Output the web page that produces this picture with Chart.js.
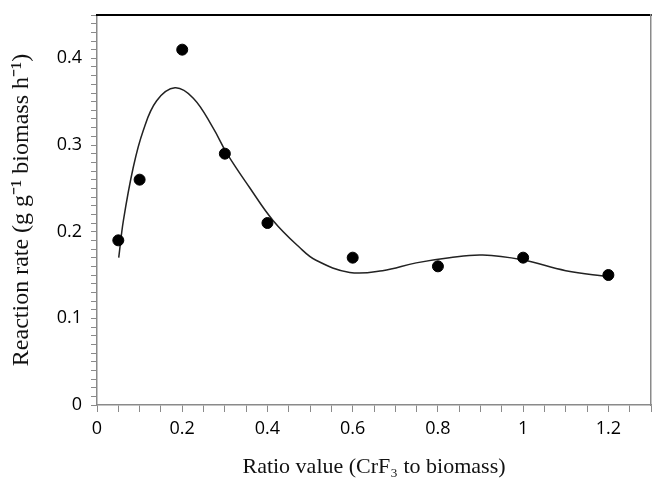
<!DOCTYPE html>
<html>
<head>
<meta charset="utf-8">
<script src="https://cdn.jsdelivr.net/npm/chart.js@4/dist/chart.umd.min.js"></script>
<style>
  html, body { margin: 0; padding: 0; background: #fff; }
  #wrap { width: 652px; height: 486px; }
</style>
</head>
<body>
<div id="wrap"><canvas id="rateChart"></canvas></div>
<script>
// measured points
const ratios = [0.05, 0.1, 0.2, 0.3, 0.4, 0.6, 0.8, 1.0, 1.2];
const rates = [0.19, 0.26, 0.41, 0.29, 0.21, 0.17, 0.16, 0.17, 0.15];

// fitted curve
const fitX = [0.051, 0.062, 0.085, 0.108, 0.14, 0.183, 0.226, 0.272, 0.304, 0.358, 0.413, 0.475, 0.514, 0.593, 0.670, 0.749, 0.827, 0.905, 0.998, 1.1, 1.2];
const fitY = [0.170, 0.213, 0.274, 0.316, 0.351, 0.366, 0.354, 0.320, 0.291, 0.251, 0.213, 0.182, 0.167, 0.153, 0.155, 0.164, 0.170, 0.173, 0.1675, 0.155, 0.148];

// tick labels
const xTickValues = [0, 0.2, 0.4, 0.6, 0.8, 1.0, 1.2];
const xTickLabels = ['0', '0.2', '0.4', '0.6', '0.8', '1', '1.2'];
const yTickValues = [0, 0.1, 0.2, 0.3, 0.4];
const yTickLabels = ['0', '0.1', '0.2', '0.3', '0.4'];

function labelFor(v, values, labels) {
    const i = values.findIndex(t => Math.abs(t - v) < 1e-6);
    return i >= 0 ? labels[i] : '';
}

const axisGray = '#8a8a8a';
const tickFont = { family: 'Open Sans', size: 18 };

new Chart(document.getElementById('rateChart').getContext('2d'), {
    type: 'scatter',
    data: {
        datasets: [{
            label: 'measured',
            data: ratios.map((x, i) => ({ x: x, y: rates[i] })),
            backgroundColor: '#000',
            borderColor: '#000',
            pointRadius: 5.5,
            pointHoverRadius: 5.5
        }, {
            label: 'fit',
            type: 'line',
            data: fitX.map((x, i) => ({ x: x, y: fitY[i] })),
            borderColor: '#222',
            borderWidth: 1.5,
            pointRadius: 0,
            fill: false,
            tension: 0.4
        }]
    },
    options: {
        responsive: true,
        maintainAspectRatio: false,
        animation: false,
        layout: { padding: 0, autoPadding: false },
        plugins: {
            legend: { display: false },
            tooltip: { enabled: false }
        },
        scales: {
            x: {
                type: 'linear',
                min: 0,
                max: 1.3,
                afterFit: s => { s.height = 81; s.paddingRight = 0; },
                afterBuildTicks: s => {
                    s.ticks = [];
                    for (let k = 0; k <= 26; k++) s.ticks.push({ value: k * 0.05 });
                },
                ticks: {
                    autoSkip: false,
                    maxRotation: 0,
                    color: '#000',
                    font: tickFont,
                    padding: 6,
                    callback: v => labelFor(v, xTickValues, xTickLabels)
                },
                grid: { drawOnChartArea: false, drawTicks: true, tickLength: 7, tickColor: axisGray },
                border: { color: axisGray, width: 1.5 },
                title: {
                    display: true,
                    text: 'Ratio value (CrF\u2083 to biomass)',
                    color: '#111',
                    font: { family: 'Liberation Serif', size: 22 },
                    padding: { top: 0, bottom: 6 }
                }
            },
            y: {
                type: 'linear',
                min: 0,
                max: 0.45,
                afterFit: s => { s.width = 97; s.paddingTop = 0; s.paddingBottom = 0; },
                afterBuildTicks: s => {
                    s.ticks = [];
                    for (let k = 0; k <= 45; k++) s.ticks.push({ value: k * 0.01 });
                },
                ticks: {
                    autoSkip: false,
                    color: '#000',
                    font: tickFont,
                    padding: 9,
                    callback: v => labelFor(v, yTickValues, yTickLabels)
                },
                grid: { drawOnChartArea: false, drawTicks: true, tickLength: 6, tickColor: axisGray },
                border: { color: axisGray, width: 1.5 },
                title: {
                    display: true,
                    text: 'Reaction rate (g g\u207B\u00B9 biomass h\u207B\u00B9)',
                    color: '#111',
                    font: { family: 'Liberation Serif', size: 24 },
                    padding: { top: 7, bottom: 0 }
                }
            },
            xTop: {
                type: 'linear',
                position: 'top',
                min: 0,
                max: 1.3,
                afterFit: s => { s.height = 15; s.paddingRight = 0; s.paddingLeft = 0; },
                ticks: { display: false },
                grid: { display: false, drawTicks: false },
                border: { display: true, color: '#000', width: 2 }
            },
            yRight: {
                type: 'linear',
                position: 'right',
                min: 0,
                max: 0.45,
                afterFit: s => { s.width = 1; s.paddingTop = 0; s.paddingBottom = 0; },
                ticks: { display: false },
                grid: { display: false, drawTicks: false },
                border: { display: true, color: axisGray, width: 1.5 }
            }
        }
    }
});
</script>
</body>
</html>
